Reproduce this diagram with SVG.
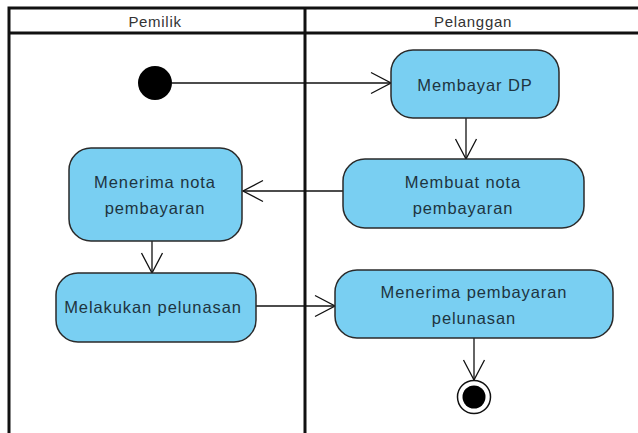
<svg xmlns="http://www.w3.org/2000/svg" width="638" height="433" viewBox="0 0 638 433">
  <style>
    .lane { fill: none; stroke: #111; stroke-width: 3; }
    .hdr { font-family: "Liberation Sans", Arial, sans-serif; font-size: 15px; letter-spacing: 0.7px; fill: #333; text-anchor: middle; }
    .act rect { fill: #79cff2; stroke: #2a2a2a; stroke-width: 1.5; }
    .act text { font-family: "Liberation Sans", Arial, sans-serif; font-size: 16.5px; letter-spacing: 0.9px; fill: #1e3440; text-anchor: middle; }
    .flow { fill: none; stroke: #111; stroke-width: 1.3; marker-end: url(#open); }
  </style>
  <defs>
    <marker id="open" viewBox="0 0 22 24" refX="21" refY="12" markerWidth="22" markerHeight="24" markerUnits="userSpaceOnUse" orient="auto">
      <path d="M1,1.5 L21,12 L1,22.5" fill="none" stroke="#111" stroke-width="1.3"/>
    </marker>
  </defs>
  <rect width="638" height="433" fill="#fff"/>

  <!-- swimlanes -->
  <g id="lanes">
    <path class="lane" d="M9,440 V8 H650 M9,33 H650 M305,8 V440"/>
    <text class="hdr" x="155" y="27">Pemilik</text>
    <text class="hdr" x="473" y="27">Pelanggan</text>
  </g>

  <!-- control flows -->
  <g id="connectors">
    <path class="flow" d="M172,83 H391"/>
    <path class="flow" d="M466,118 V159"/>
    <path class="flow" d="M343,191 H243"/>
    <path class="flow" d="M152,241 V273"/>
    <path class="flow" d="M256,306 H335"/>
    <path class="flow" d="M474,338 V380"/>
  </g>

  <g id="start">
    <circle cx="155" cy="83" r="17" fill="#000"/>
  </g>

  <g id="membayar-dp" class="act">
    <rect x="391" y="50" width="168" height="68" rx="22"/>
    <text x="475" y="91">Membayar DP</text>
  </g>

  <g id="membuat-nota" class="act">
    <rect x="343" y="159" width="241" height="69" rx="22"/>
    <text x="463" y="188">Membuat nota</text>
    <text x="463" y="214">pembayaran</text>
  </g>

  <g id="menerima-nota" class="act">
    <rect x="69" y="148" width="173" height="93" rx="22"/>
    <text x="155" y="188">Menerima nota</text>
    <text x="155" y="214">pembayaran</text>
  </g>

  <g id="melakukan-pelunasan" class="act">
    <rect x="56" y="273" width="200" height="69" rx="22"/>
    <text x="153" y="313">Melakukan pelunasan</text>
  </g>

  <g id="menerima-pelunasan" class="act">
    <rect x="335" y="270" width="278" height="68" rx="22"/>
    <text x="474" y="298">Menerima pembayaran</text>
    <text x="474" y="324">pelunasan</text>
  </g>

  <g id="end">
    <circle cx="474" cy="397" r="16.5" fill="#fff" stroke="#111" stroke-width="1.5"/>
    <circle cx="474" cy="397" r="11.5" fill="#000"/>
  </g>
</svg>
